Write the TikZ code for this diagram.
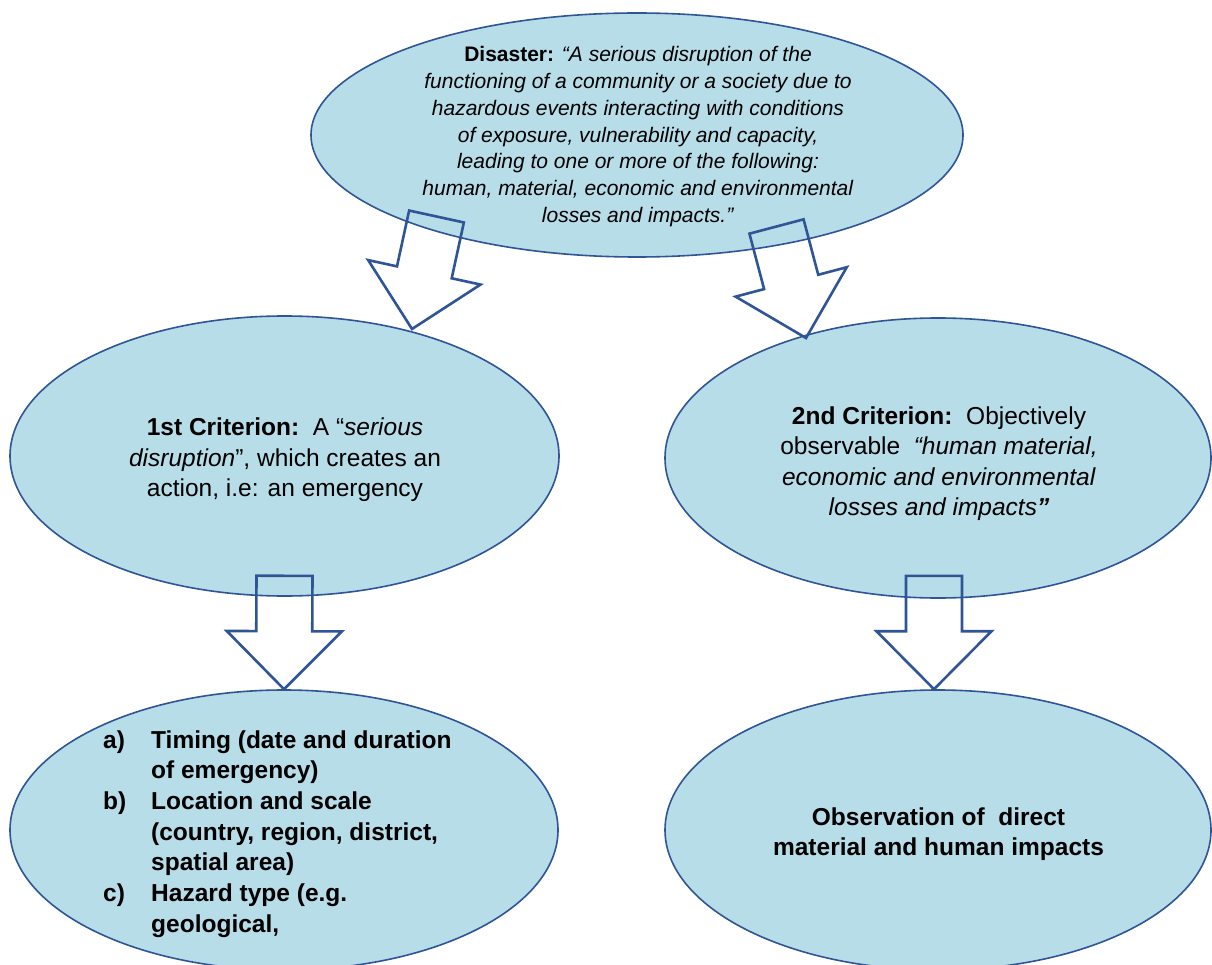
\documentclass[tikz,border=0pt]{standalone}
\usepackage{fontspec}
\setmainfont{Liberation Sans}
\usetikzlibrary{shapes.geometric,calc}
\definecolor{ellfill}{RGB}{183,221,232}
\definecolor{edgeblue}{RGB}{47,85,151}
% block arrow: #1 id, #2 tail coordinate, #3 tip coordinate
\newcommand\blockarrow[3]{%
  \coordinate (#1h) at ($(#3)!58pt!(#2)$);
  \draw[blockarr] (#3) -- ($(#1h)!57.5pt!-90:(#2)$) -- ($(#1h)!28pt!-90:(#2)$)
    -- ($(#2)!28pt!90:(#3)$) -- ($(#2)!28pt!-90:(#3)$)
    -- ($(#1h)!28pt!90:(#2)$) -- ($(#1h)!57.5pt!90:(#2)$) -- cycle;
}
\begin{document}
\begin{tikzpicture}[x=1pt,y=-1pt,
  ell/.style={ellipse, draw=edgeblue, fill=ellfill, line width=1.6pt, inner sep=0pt},
  blockarr/.style={draw=edgeblue, line width=2.6pt, line join=miter},
  txt/.style={inner sep=0pt, align=center, text=black},
  toptxt/.style={font=\fontsize{21}{26.7}\selectfont},
  bigtxt/.style={font=\fontsize{24.5}{30.5}\selectfont}]
\useasboundingbox (0,0) rectangle (1212,965);
\fill[white] (0,0) rectangle (1212,965);
\clip (0,0) rectangle (1212,965);

% ellipses
\node[ell, minimum width=652pt, minimum height=244pt] (T) at (637,135) {};
\node[ell, minimum width=549pt, minimum height=280pt] (ML) at (284.5,456) {};
\node[ell, minimum width=546pt, minimum height=280pt] (MR) at (938,458) {};
\node[ell, minimum width=548pt, minimum height=280pt] (BL) at (284,830) {};
\node[ell, minimum width=546pt, minimum height=280pt] (BR) at (938,830) {};

% texts
\node[txt, toptxt] (ttop) at (638,136.7) {\strut\textbf{Disaster:} \textit{“A serious disruption of the}\\
  \textit{functioning of a community or a society due to}\\
  \textit{hazardous events interacting with conditions}\\
  \textit{of exposure, vulnerability and capacity,}\\
  \textit{leading to one or more of the following:}\\
  \textit{human, material, economic and environmental}\\
  \textit{losses and impacts.”}\strut};

\node[txt, bigtxt] (tml) at (285,460) {\strut\textbf{1st Criterion:}\ \ A “\textit{serious}\\
  \textit{disruption}”, which creates an\\
  action, i.e: an emergency\strut};

\node[txt, bigtxt] (tmr) at (939,464) {\strut\textbf{2nd Criterion:}\ \ Objectively\\
  observable\ \ \textit{“human material,}\\
  \textit{economic and environmental}\\
  \textit{losses and impacts}\textbf{\textit{”}}\strut};

\node[txt, bigtxt, align=left, anchor=west, font=\fontsize{24.5}{30.7}\selectfont\bfseries] (tbl) at (103,834) {%
  \strut\makebox[48pt][l]{a)}Timing (date and duration\\
  \hspace*{48pt}of emergency)\\
  \makebox[48pt][l]{b)}Location and scale\\
  \hspace*{48pt}(country, region, district,\\
  \hspace*{48pt}spatial area)\\
  \makebox[48pt][l]{c)}Hazard type (e.g.\\
  \hspace*{48pt}geological,\strut};

\node[txt, bigtxt, font=\fontsize{24.5}{30.5}\selectfont\bfseries] (tbr) at (938.5,834.4) {\strut Observation of\ \ direct\\
  material and human impacts\strut};

% arrow end points
\coordinate (a1t) at (436.5,216.5);
\coordinate (a1p) at (412,329);
\coordinate (a2t) at (776.5,226.5);
\coordinate (a2p) at (806,338);
\coordinate (a3t) at ($(ML.south)+(0,-21)$);
\coordinate (a4t) at ($(MR.south)+(-4,-23)$);
\coordinate (a4p) at ($(BR.north)+(-4,0)$);

\blockarrow{a1}{a1t}{a1p}
\blockarrow{a2}{a2t}{a2p}
\blockarrow{a3}{a3t}{BL.north}
\blockarrow{a4}{a4t}{a4p}
\end{tikzpicture}
\end{document}
